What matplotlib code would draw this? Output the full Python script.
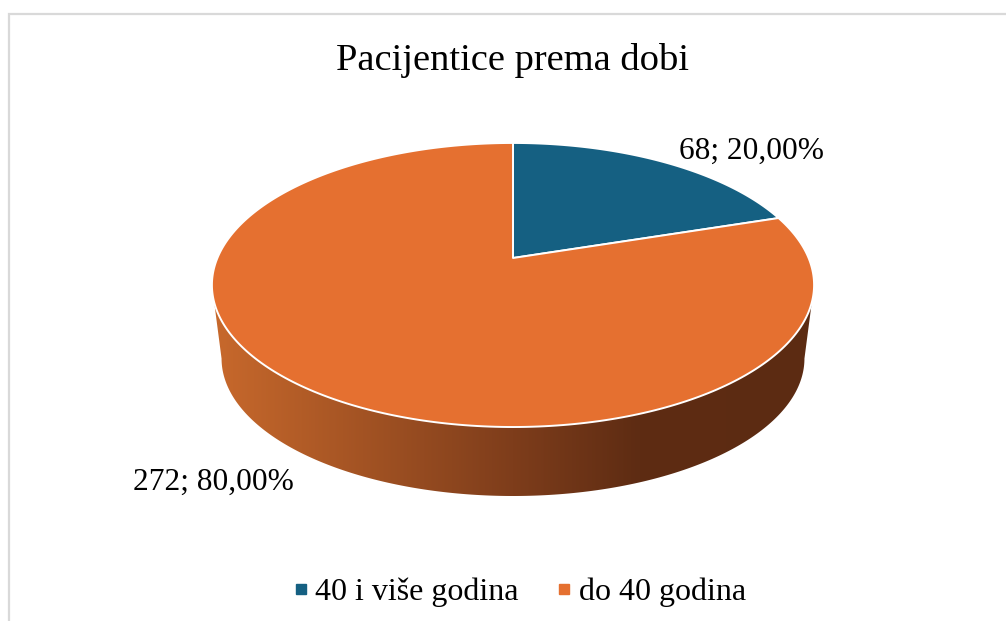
import numpy as np
import matplotlib
matplotlib.use("Agg")
import matplotlib.pyplot as plt
from matplotlib.colors import LinearSegmentedColormap
from matplotlib.lines import Line2D
from matplotlib.patches import Polygon, Rectangle

title = "Pacijentice prema dobi"
categories = ["40 i više godina", "do 40 godina"]
counts = [68, 272]
colors = ["#156082", "#E57030"]

plt.rcParams["font.family"] = ["Liberation Serif", "DejaVu Serif"]

W, H = 1006, 621
CX, CY = 513, 258
A, B, K = 295.6, 136.9, 0.19   # perspective of the tilted disc


def disc(theta, scale=1.0, drop=0.0):
    # theta clockwise from 12 o'clock, back edge is squeezed by the perspective
    u, v = np.sin(theta), np.cos(theta)
    x = CX + scale * A * u / (1 + K * v)
    y = CY + drop - scale * B * v / (1 + K * v)
    return x, y


fig = plt.figure(figsize=(W / 100, H / 100), dpi=100)
ax = fig.add_axes([0, 0, 1, 1])
ax.set_xlim(0, W)
ax.set_ylim(H, 0)
ax.axis("off")

ax.add_patch(Rectangle((9.5, 13.5), W + 20, H + 20, fc="white", ec="#D9D9D9", lw=1.6))

# side wall with horizontal shading
front_start = np.pi / 2 + np.arcsin(K)
t = np.linspace(front_start, 2 * np.pi - front_start, 200)
top_x, top_y = disc(t)
bot_x, bot_y = disc(t[::-1], scale=0.968, drop=74.4)
wall = Polygon(np.column_stack([np.r_[top_x, bot_x], np.r_[top_y, bot_y]]),
               fc="none", ec="none", transform=ax.transData)
ax.add_patch(wall)
shade = LinearSegmentedColormap.from_list(
    "shade", [(0, "#C8692C"), (0.5, "#7E3D1B"), (0.71, "#5E2C13"), (1, "#5C2B12")])
im = ax.imshow(np.linspace(0, 1, 256)[None, :], cmap=shade, aspect="auto",
               extent=(212, 814, 500, 280), zorder=2)
im.set_clip_path(wall)
ax.set_xlim(0, W)
ax.set_ylim(H, 0)

# top of the pie
total = sum(counts)
start = 0.0
for value, color in zip(counts, colors):
    sweep = 2 * np.pi * value / total
    theta = np.linspace(start, start + sweep, 300)
    x, y = disc(theta)
    ax.fill(np.r_[CX, x], np.r_[CY, y], fc=color, ec="white", lw=1.4, zorder=3,
            joinstyle="round")
    start += sweep

labels = [f"{v}; {100 * v / total:.2f}%".replace(".", ",") for v in counts]
ax.text(752, 151, labels[0], fontsize=22.6, ha="center", va="center", color="black", zorder=5)
ax.text(213, 482, labels[1], fontsize=22.6, ha="center", va="center", color="black", zorder=5)

ax.text(513, 61, title, fontsize=27.7, ha="center", va="center", color="black")

handles = [Line2D([], [], ls="none", marker="s", ms=7, mfc=c, mec=c) for c in colors]
ax.legend(handles, categories, loc="center", bbox_to_anchor=(518.5 / W, 1 - 592 / H),
          ncol=2, frameon=False, fontsize=23, handlelength=0.6, handletextpad=0.15,
          columnspacing=1.14)

fig.savefig("out.png", dpi=100)
